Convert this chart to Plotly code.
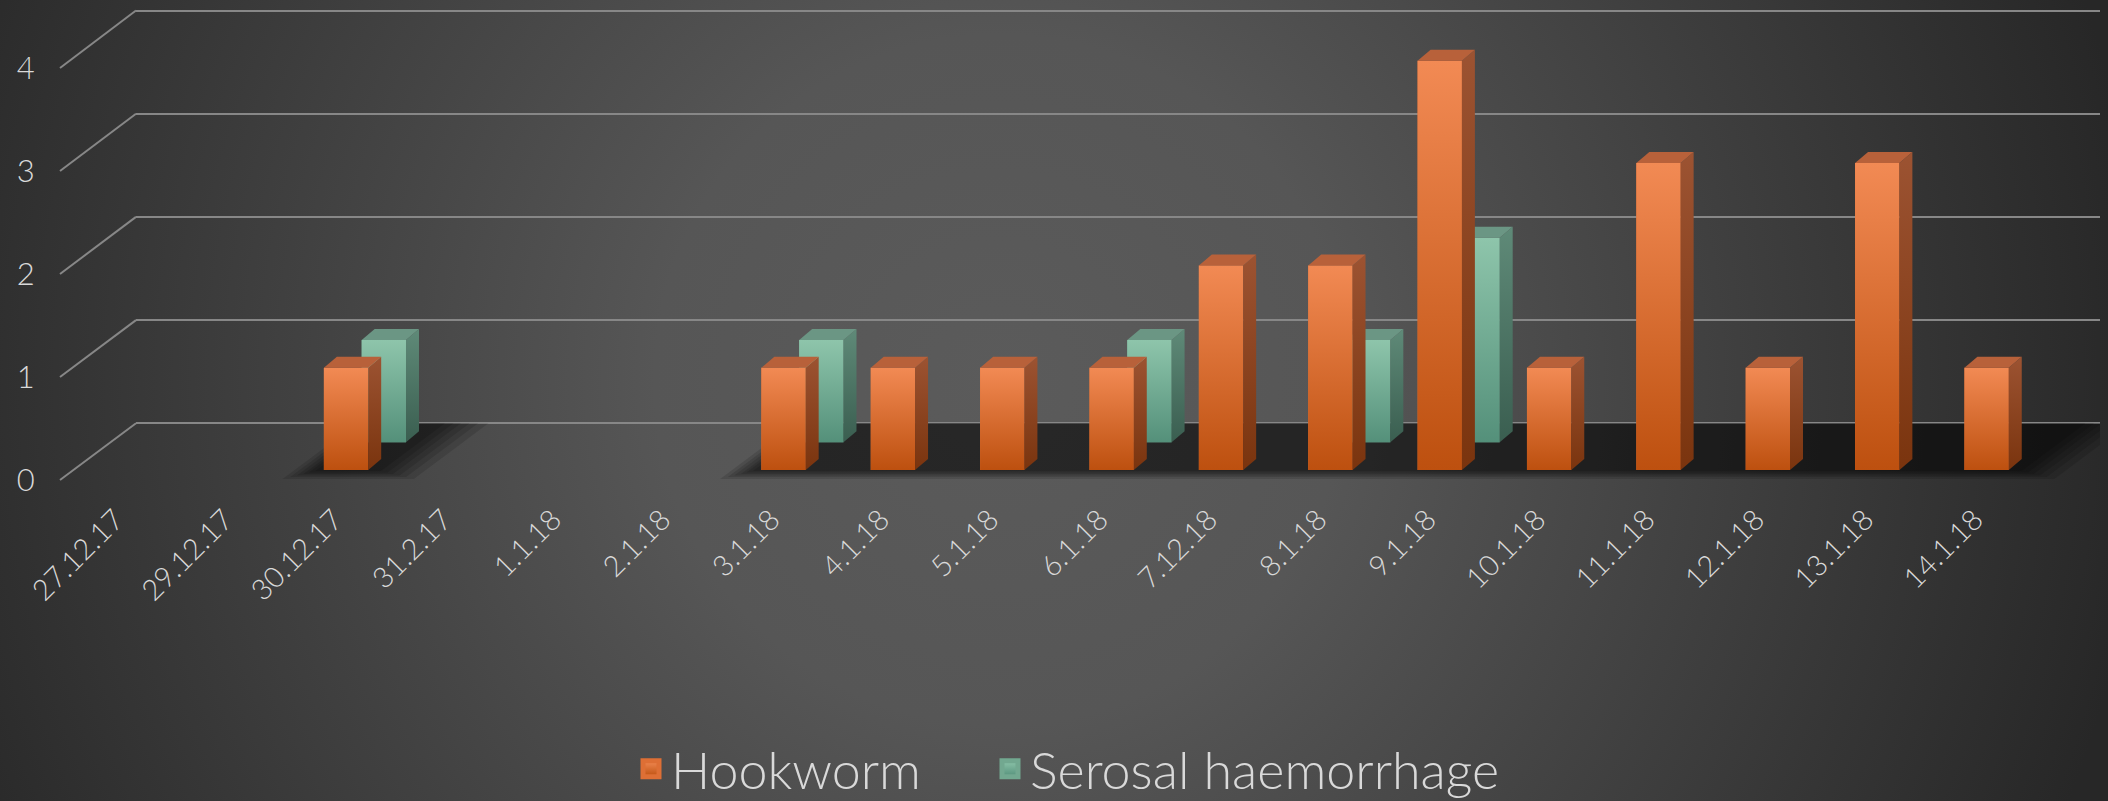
import base64
import plotly.graph_objects as go

# ---------------- data ----------------
categories = ["27.12.17", "29.12.17", "30.12.17", "31.2.17", "1.1.18", "2.1.18",
              "3.1.18", "4.1.18", "5.1.18", "6.1.18", "7.12.18", "8.1.18",
              "9.1.18", "10.1.18", "11.1.18", "12.1.18", "13.1.18", "14.1.18"]
hookworm = [0, 0, 1, 0, 0, 0, 1, 1, 1, 1, 2, 2, 4, 1, 3, 1, 3, 1]
serosal = [0, 0, 1, 0, 0, 0, 1, 0, 0, 1, 0, 1, 2, 0, 0, 0, 0, 0]
y_ticks = [0, 1, 2, 3, 4]
series_names = ["Hookworm", "Serosal haemorrhage"]

# ---------------- layout constants (pixels) ----------------
W, H = 2108, 801
UX = 109.37                # px per category
X0 = 127.3                 # px of first category (front row)
UY_BAR = 102.3             # px per unit for bars
UY_WALL = 103.2            # px per unit on back wall
UY_FRONT = 103.0           # px per unit on front label plane
FRONT = 480.0              # front floor edge (value 0 of labels)
FRONT_LEFT = 60.0
BASE_FRONT_BAR = 470.0
BASE_BACK_BAR = 442.3
BASE_WALL = 423.3
BACK_BAR_DX = 37.8
WALL_LEFT = 136.0
WALL_RIGHT = 2100.0
BAR_W = 44.3 / UX
DEPTH_DX = 13.0 / UX
DEPTH_DY = 11.0 / UY_BAR

TXT = "#d9d9d9"
GRID = "#878787"
FONT = "Lato"


def xrange(offset, left=0.0, right=W):
    return [(left - X0 - offset) / UX, (right - X0 - offset) / UX]


def yrange(base, unit):
    return [-(H - base) / unit, base / unit]


fig = go.Figure()

# ---------------- floor shadows (wall subplot) ----------------
nonzero = [i for i in range(len(categories)) if hookworm[i] > 0 or serosal[i] > 0]
runs = []
for i in nonzero:
    if runs and runs[-1][1] == i - 1:
        runs[-1][1] = i
    else:
        runs.append([i, i])
layers = [(479.0, 0.30), (477.0, 0.23), (475.5, 0.17), (474.0, 0.11), (472.5, 0.06), (471.0, 0.0)]
for front_px, grow in layers:
    front_val = -(front_px - BASE_WALL) / UY_WALL
    shift = (front_px - BASE_WALL) * (76.0 / 56.7) / UX
    xs, ys = [], []
    for s, e in runs:
        L, R = s - 0.28 - grow, e + 0.32 + grow
        xs += [L, R, R + shift, L + shift, L, None]
        ys += [front_val, front_val, 0, 0, front_val, None]
    fig.add_trace(go.Scatter(x=xs, y=ys, mode="lines", line=dict(width=0),
                             fill="toself", fillcolor="rgba(0,0,0,0.12)",
                             hoverinfo="skip", showlegend=False,
                             xaxis="x", yaxis="y"))


def add_series(values, name, legend_id, xa, ya, front_cols, side_cols, top_col, legend_col):
    idx = list(range(len(categories)))
    fig.add_trace(go.Bar(x=idx, y=values, name=name, width=BAR_W, legendgroup=name,
                         showlegend=False,
                         marker=dict(color=legend_col, line=dict(width=0)),
                         xaxis=xa, yaxis=ya, hoverinfo="skip"))
    # legend entry (larger square swatch than a bar legend icon)
    fig.add_trace(go.Scatter(x=[None], y=[None], name=name, legendgroup=name,
                             legend=legend_id, mode="markers",
                             marker=dict(symbol="square", size=16, color=front_cols[1],
                                         gradient=dict(type="vertical", color=front_cols[0]),
                                         line=dict(width=5, color=legend_col)),
                             xaxis=xa, yaxis=ya, hoverinfo="skip"))
    for i, v in enumerate(values):
        if v <= 0:
            continue
        l, r = i - BAR_W / 2, i + BAR_W / 2
        fig.add_trace(go.Scatter(
            x=[l, r, r, l, l], y=[0, 0, v, v, 0], mode="lines", line=dict(width=0),
            fill="toself",
            fillgradient=dict(type="vertical", start=0, stop=v,
                              colorscale=[[0, front_cols[0]], [1, front_cols[1]]]),
            hoverinfo="skip", showlegend=False, xaxis=xa, yaxis=ya))
        fig.add_trace(go.Scatter(
            x=[r, r + DEPTH_DX, r + DEPTH_DX, r, r],
            y=[0, DEPTH_DY, v + DEPTH_DY, v, 0], mode="lines", line=dict(width=0),
            fill="toself",
            fillgradient=dict(type="vertical", start=0, stop=v + DEPTH_DY,
                              colorscale=[[0, side_cols[0]], [1, side_cols[1]]]),
            hoverinfo="skip", showlegend=False, xaxis=xa, yaxis=ya))
        fig.add_trace(go.Scatter(
            x=[l, r, r + DEPTH_DX, l + DEPTH_DX, l],
            y=[v, v, v + DEPTH_DY, v + DEPTH_DY, v], mode="lines", line=dict(width=0),
            fill="toself", fillcolor=top_col,
            hoverinfo="skip", showlegend=False, xaxis=xa, yaxis=ya))


# back row: Serosal haemorrhage
add_series(serosal, series_names[1], "legend2", "x2", "y2",
           ("#54907a", "#8ec5ab"), ("#3a5e50", "#5f8a78"), "#6b9684", "#72a890")
# front row: Hookworm
add_series(hookworm, series_names[0], "legend", "x3", "y3",
           ("#bd500f", "#f28a54"), ("#7a340e", "#9c5332"), "#b8613a", "#de6f35")

# diagonal tick lines from front plane to back wall
dx_left = (FRONT_LEFT - X0) / UX
dx_right = (WALL_LEFT - X0) / UX
lx, ly = [], []
for v in y_ticks:
    back_px = BASE_WALL - v * UY_WALL
    lx += [dx_left, dx_right, None]
    ly += [v, (FRONT - back_px) / UY_FRONT, None]
fig.add_trace(go.Scatter(x=lx, y=ly, mode="lines", line=dict(color=GRID, width=2),
                         hoverinfo="skip", showlegend=False, xaxis="x3", yaxis="y4"))

# ---------------- background ----------------
svg = ('<svg xmlns="http://www.w3.org/2000/svg" width="2108" height="801" viewBox="0 0 2108 801">'
       '<defs><radialGradient id="g" cx="1000" cy="380" r="1150" gradientUnits="userSpaceOnUse">'
       '<stop offset="0" stop-color="#5b5b5b"/><stop offset="0.3" stop-color="#565656"/>'
       '<stop offset="1" stop-color="#272727"/></radialGradient></defs>'
       '<rect width="2108" height="801" fill="url(#g)"/></svg>')
src = "data:image/svg+xml;base64," + base64.b64encode(svg.encode()).decode()
fig.add_layout_image(dict(source=src, xref="paper", yref="paper",
                          x=0, y=1, sizex=1, sizey=1,
                          xanchor="left", yanchor="top", sizing="stretch", layer="below"))

hidden = dict(showgrid=False, zeroline=False, showline=False, showticklabels=False,
              ticks="", automargin=False)
legend_font = dict(size=52, color=TXT, family=FONT, weight=300)
fig.update_layout(
    width=W, height=H, autosize=False,
    margin=dict(l=0, r=0, t=0, b=0, pad=0, autoexpand=False),
    paper_bgcolor="#3c3c3c", plot_bgcolor="rgba(0,0,0,0)",
    font=dict(family=FONT, color=TXT, weight=300),
    barmode="overlay",
    hovermode=False,
    # back wall (grid lines)
    xaxis=dict(domain=[WALL_LEFT / W, WALL_RIGHT / W], range=xrange(0, WALL_LEFT, WALL_RIGHT),
               anchor="y", **hidden),
    yaxis=dict(range=yrange(BASE_WALL, UY_WALL), tickvals=y_ticks, showgrid=True,
               gridcolor=GRID, gridwidth=2, zeroline=False, showline=False,
               showticklabels=False, ticks="", anchor="x", automargin=False),
    # back row of bars
    xaxis2=dict(domain=[0, 1], range=xrange(BACK_BAR_DX), anchor="y2", **hidden),
    yaxis2=dict(domain=[0, 1], range=yrange(BASE_BACK_BAR, UY_BAR), anchor="x2", **hidden),
    # front row of bars + category labels on the front floor edge
    xaxis3=dict(overlaying="x2", range=xrange(0), anchor="free", position=(H - FRONT) / H,
                tickmode="array", tickvals=list(range(len(categories))), ticktext=categories,
                tickangle=-45, tickfont=dict(size=29, color=TXT, family=FONT, weight=300),
                ticks="outside", ticklen=10, tickcolor="rgba(0,0,0,0)",
                ticklabelshift=-12, automargin=False,
                showgrid=False, zeroline=False, showline=False),
    yaxis3=dict(overlaying="y2", range=yrange(BASE_FRONT_BAR, UY_BAR), anchor="x3", **hidden),
    # front plane value labels
    yaxis4=dict(overlaying="y2", range=yrange(FRONT, UY_FRONT), anchor="free",
                position=FRONT_LEFT / W, side="left",
                tickvals=y_ticks, tickfont=dict(size=31, color=TXT, family=FONT, weight=300),
                ticks="outside", ticklen=19, tickcolor="rgba(0,0,0,0)", automargin=False,
                showgrid=False, zeroline=False, showline=False),
    legend=dict(orientation="h", x=(646 - 15) / W, xanchor="left",
                y=(H - 769) / H, yanchor="middle", font=legend_font,
                bgcolor="rgba(0,0,0,0)"),
    legend2=dict(orientation="h", x=(1006 - 16) / W, xanchor="left",
                 y=(H - 769) / H, yanchor="middle", font=legend_font,
                 bgcolor="rgba(0,0,0,0)"),
)

fig.write_html("out.html",
               config={"displayModeBar": False},
               post_script="document.body.style.margin='0px';"
                           "document.body.style.overflow='hidden';")
